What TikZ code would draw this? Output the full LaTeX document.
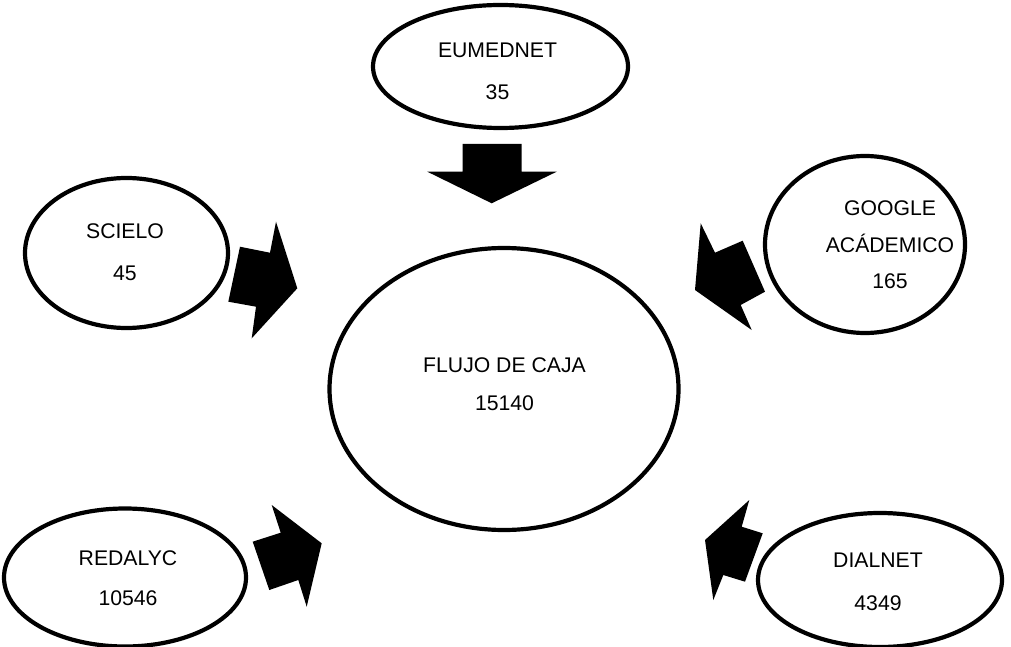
\documentclass[tikz,border=0pt]{standalone}
\usepackage{fontspec}
\setmainfont{Liberation Sans}
\usetikzlibrary{shapes.geometric}
\begin{document}
\begin{tikzpicture}[x=1pt,y=-1pt,
  oval/.style={draw=black,line width=4.2pt,ellipse,inner sep=0pt,fill=white},
  lbl/.style={anchor=base,inner sep=0pt,font=\fontsize{21.2}{25}\selectfont},
  blockarrow/.style={fill=black,draw=none}]
\useasboundingbox (0,0) rectangle (1011,647);
% ellipses
\node[oval,minimum width=255pt,minimum height=123pt] (eum) at (500.5,66.5) {};
\node[oval,minimum width=203pt,minimum height=150pt] (sci) at (126.5,253) {};
\node[oval,minimum width=200pt,minimum height=177pt] (goo) at (865,244.5) {};
\node[oval,minimum width=349pt,minimum height=282pt] (flu) at (504,389) {};
\node[oval,minimum width=242pt,minimum height=138pt] (red) at (125,577.5) {};
\node[oval,minimum width=244pt,minimum height=134pt] (dia) at (880,580) {};
% labels
\node[lbl] (eumA) at (497.5,58) {EUMEDNET};
\node[lbl] (eumB) at (497.5,100) {35};
\node[lbl] (sciA) at (125,238) {SCIELO};
\node[lbl] (sciB) at (125,280) {45};
\node[lbl] (gooA) at (890,215) {GOOGLE};
\node[lbl] (gooB) at (890,252) {ACÁDEMICO};
\node[lbl] (gooC) at (890,288) {165};
\node[lbl] (fluA) at (504.5,372.7) {FLUJO DE CAJA};
\node[lbl] (fluB) at (504.5,410) {15140};
\node[lbl] (redA) at (128,565) {REDALYC};
\node[lbl] (redB) at (128,605) {10546};
\node[lbl] (diaA) at (878,567) {DIALNET};
\node[lbl] (diaB) at (878,610) {4349};
% block arrows
\fill[blockarrow] (462.7,144) -- (521.7,144) -- (521.7,171.7) -- (556.7,171.7) -- (491.7,203.3) -- (427.3,171.7) -- (462.7,171.7) -- cycle;
\fill[blockarrow] (276,221.7) -- (297.3,288.3) -- (251.7,338.3) -- (256,306.7) -- (228.3,301.7) -- (240,246.7) -- (270,252.7) -- cycle;
\fill[blockarrow] (700.7,223.3) -- (715,252.7) -- (742.7,240.7) -- (765,291.7) -- (740.7,305) -- (751.7,330) -- (695,290) -- cycle;
\fill[blockarrow] (271.7,505) -- (280.7,532.7) -- (252.7,541.7) -- (269.3,590) -- (298.3,580) -- (306.7,606.7) -- (321.7,543.3) -- cycle;
\fill[blockarrow] (749.3,500) -- (741.7,526.7) -- (762.7,533.3) -- (745,581.7) -- (723.3,575) -- (713.3,600) -- (705,540) -- cycle;
\end{tikzpicture}
\end{document}
